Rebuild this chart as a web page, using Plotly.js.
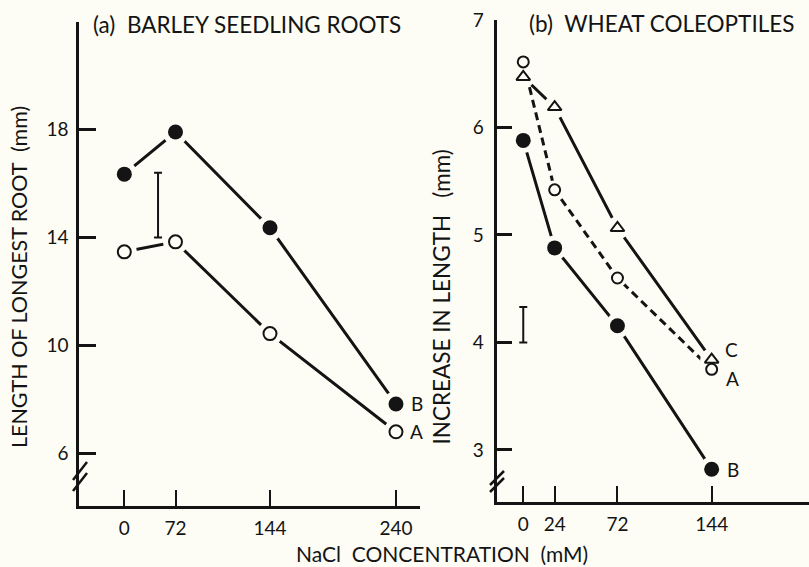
<!DOCTYPE html>
<html>
<head>
<meta charset="utf-8">
<script src="https://cdn.plot.ly/plotly-3.0.1.min.js"></script>
<style>
  html, body { margin: 0; padding: 0; background: #fdfdf5; }
  #chart { width: 809px; height: 567px; }
</style>
</head>
<body>
<div id="chart"></div>
<script>
// ---------- data ----------
// (a) Barley seedling roots: length of longest root (mm)
const doseBarley = [0, 72, 144, 240];            // NaCl, mM
const barleyA = [13.47, 13.84, 10.44, 6.8];      // open circles, curve A
const barleyB = [16.35, 17.91, 14.36, 7.83];     // filled circles, curve B
const barleyLSD = [14.0, 16.4];                  // bar: bottom, top

// (b) Wheat coleoptiles: increase in length (mm)
const doseWheat = [0, 24, 72, 144];              // NaCl, mM
const wheatA = [6.61, 5.42, 4.6, 3.75];          // open circles, dashed, curve A
const wheatB = [5.88, 4.88, 4.155, 2.82];        // filled circles, curve B
const wheatC = [6.47, 6.19, 5.065, 3.84];        // open triangles, curve C
const wheatLSD = [4.0, 4.33];                    // bar: bottom, top

const yTicksA = [6, 10, 14, 18];
const yTicksB = [3, 4, 5, 6, 7];

// ---------- styling helpers ----------
const BG = '#fdfdf5';
const INK = '#141414';
const FONT = 'Lato, "Noto Sans", sans-serif';
const W = 809, H = 567;
const px = x => x / W;            // pixel -> paper (margins are 0)
const py = y => 1 - y / H;

// panel (a): the 0 mM control is drawn off-scale, left of 72
const posBarley = doseBarley.map(d => d === 0 ? 33 : d);

function line(x, y, xa, ya, dash) {
  return {x, y, xaxis: xa, yaxis: ya, mode: 'lines', hoverinfo: 'skip',
          line: {color: INK, width: 3, dash: dash || 'solid'}};
}
function halo(x, y, xa, ya, size) {
  return {x, y, xaxis: xa, yaxis: ya, mode: 'markers', hoverinfo: 'skip',
          marker: {color: BG, size: size, line: {width: 0}}};
}
function pts(x, y, xa, ya, symbol, size, filled) {
  return {x, y, xaxis: xa, yaxis: ya, mode: 'markers',
          marker: {symbol: symbol, size: size,
                   color: filled ? INK : BG,
                   line: {color: INK, width: filled ? 0 : 2}}};
}
function bar(xv, lsd, xa, ya) {
  const mid = (lsd[0] + lsd[1]) / 2;
  return {x: [xv], y: [mid], xaxis: xa, yaxis: ya, mode: 'markers', hoverinfo: 'skip',
          marker: {color: 'rgba(0,0,0,0)', size: 1},
          error_y: {type: 'data', symmetric: true, array: [lsd[1] - mid],
                    color: INK, thickness: 2, width: 4}};
}

const traces = [
  line(posBarley, barleyB, 'x', 'y'),
  line(posBarley, barleyA, 'x', 'y'),
  line(doseWheat, wheatB, 'x2', 'y2'),
  line(doseWheat, wheatC, 'x2', 'y2'),
  line(doseWheat, wheatA, 'x2', 'y2', '8px,5px'),
  halo(posBarley, barleyB, 'x', 'y', 26),
  halo(posBarley, barleyA, 'x', 'y', 25),
  halo(doseWheat, wheatB, 'x2', 'y2', 25),
  halo(doseWheat, wheatC, 'x2', 'y2', 23),
  halo(doseWheat, wheatA, 'x2', 'y2', 19),
  pts(posBarley, barleyB, 'x', 'y', 'circle', 15, true),
  pts(posBarley, barleyA, 'x', 'y', 'circle', 13, false),
  pts(doseWheat, wheatB, 'x2', 'y2', 'circle', 15, true),
  pts(doseWheat, wheatC, 'x2', 'y2', 'triangle-up', 12, false),
  pts(doseWheat, wheatA, 'x2', 'y2', 'circle', 11, false),
  bar(58.7, barleyLSD, 'x', 'y'),
  bar(0, wheatLSD, 'x2', 'y2')
];

const axisCommon = {
  showline: true, linecolor: INK, linewidth: 3, showgrid: false, zeroline: false,
  ticks: 'inside', tickcolor: INK, fixedrange: true,
  tickfont: {family: FONT, size: 19, color: INK}
};

const layout = {
  width: W, height: H,
  margin: {l: 0, r: 0, t: 0, b: 0},
  paper_bgcolor: BG, plot_bgcolor: BG,
  showlegend: false,
  xaxis: Object.assign({}, axisCommon, {
    domain: [px(79.3), px(420)], range: [-1.3, 258.3], anchor: 'y',
    tickvals: posBarley, ticktext: doseBarley.map(String),
    ticklen: 16, tickwidth: 2, ticklabelstandoff: 3
  }),
  yaxis: Object.assign({}, axisCommon, {
    domain: [py(505.7), py(21.7)], range: [4.06, 22], anchor: 'x',
    tickvals: yTicksA, ticklen: 17, tickwidth: 3, ticklabelstandoff: 4
  }),
  xaxis2: Object.assign({}, axisCommon, {
    domain: [px(496.7), 1], range: [-20.3, 218.4], anchor: 'y2',
    tickvals: doseWheat, ticktext: doseWheat.map(String),
    ticklen: 16, tickwidth: 2, ticklabelstandoff: 3
  }),
  yaxis2: Object.assign({}, axisCommon, {
    domain: [py(502), py(20)], range: [2.516, 7], anchor: 'x2',
    tickvals: yTicksB, ticklen: 15, tickwidth: 3, ticklabelstandoff: 6
  }),
  annotations: [
    {text: '(a)  BARLEY SEEDLING ROOTS', xref: 'paper', yref: 'paper',
     x: px(91), y: py(24.5), xanchor: 'left', yanchor: 'middle', showarrow: false,
     font: {family: FONT, size: 22.5, color: INK}},
    {text: '(b)  WHEAT COLEOPTILES', xref: 'paper', yref: 'paper',
     x: px(527), y: py(23.5), xanchor: 'left', yanchor: 'middle', showarrow: false,
     font: {family: FONT, size: 22.5, color: INK}},
    {text: 'LENGTH OF LONGEST ROOT  (mm)', xref: 'paper', yref: 'paper',
     x: px(19), y: py(277), xanchor: 'center', yanchor: 'middle', textangle: -90,
     showarrow: false, font: {family: FONT, size: 21.5, color: INK}},
    {text: 'INCREASE IN LENGTH   (mm)', xref: 'paper', yref: 'paper',
     x: px(441), y: py(297.5), xanchor: 'center', yanchor: 'middle', textangle: -90,
     showarrow: false, font: {family: FONT, size: 22.5, color: INK}},
    {text: 'NaCl  CONCENTRATION  (mM)', xref: 'paper', yref: 'paper',
     x: px(442), y: py(553.5), xanchor: 'center', yanchor: 'middle', borderpad: 0,
     showarrow: false, font: {family: FONT, size: 21, color: INK}},
    // curve labels
    {text: 'B', xref: 'x', yref: 'y', x: posBarley[3], y: barleyB[3], xshift: 21, yshift: 0,
     showarrow: false, font: {family: FONT, size: 19, color: INK}},
    {text: 'A', xref: 'x', yref: 'y', x: posBarley[3], y: barleyA[3], xshift: 21, yshift: 0,
     showarrow: false, font: {family: FONT, size: 19, color: INK}},
    {text: 'C', xref: 'x2', yref: 'y2', x: doseWheat[3], y: wheatC[3], xshift: 20, yshift: 10,
     showarrow: false, font: {family: FONT, size: 19, color: INK}},
    {text: 'A', xref: 'x2', yref: 'y2', x: doseWheat[3], y: wheatA[3], xshift: 21, yshift: -9,
     showarrow: false, font: {family: FONT, size: 19, color: INK}},
    {text: 'B', xref: 'x2', yref: 'y2', x: doseWheat[3], y: wheatB[3], xshift: 21, yshift: 0,
     showarrow: false, font: {family: FONT, size: 19, color: INK}}
  ],
  shapes: [
    // axis-break marks on the y axes
    {type: 'line', xref: 'paper', yref: 'paper', x0: px(73), y0: py(480), x1: px(87), y1: py(462),
     line: {color: INK, width: 2.5}},
    {type: 'line', xref: 'paper', yref: 'paper', x0: px(73), y0: py(491), x1: px(87), y1: py(473),
     line: {color: INK, width: 2.5}},
    {type: 'line', xref: 'paper', yref: 'paper', x0: px(490), y0: py(485), x1: px(504), y1: py(471),
     line: {color: INK, width: 2.5}},
    {type: 'line', xref: 'paper', yref: 'paper', x0: px(490), y0: py(492), x1: px(504), y1: py(478),
     line: {color: INK, width: 2.5}}
  ]
};

Plotly.newPlot('chart', traces, layout, {staticPlot: true, displayModeBar: false});
</script>
</body>
</html>
